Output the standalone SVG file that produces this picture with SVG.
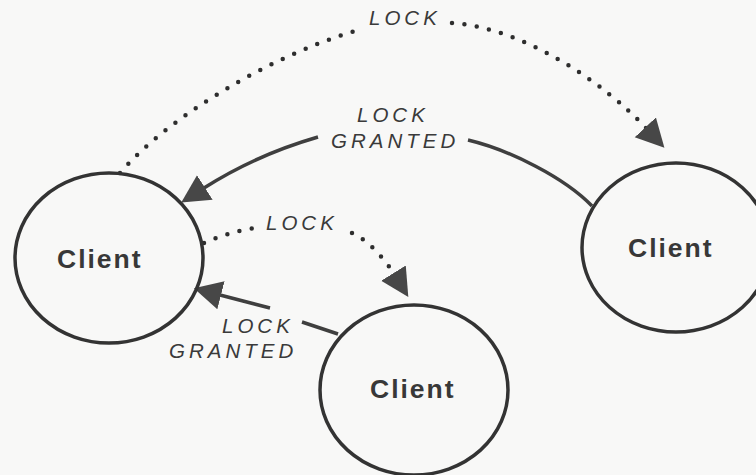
<svg xmlns="http://www.w3.org/2000/svg" width="756" height="475" viewBox="0 0 756 475">
  <defs>
    <style>
      .node { fill: #ffffff; fill-opacity: 0; stroke: #333333; stroke-width: 3.5; }
      .ntext { font-family: "Liberation Sans", Arial, sans-serif; font-weight: bold; font-size: 26.5px; letter-spacing: 2px; fill: #383838; }
      .solid { fill: none; stroke: #3f3f3f; stroke-width: 3.5; stroke-linecap: butt; }
      .dotted { fill: none; stroke: #2e2e2e; stroke-width: 4.5; stroke-linecap: round; stroke-dasharray: 0 12.5; }
      .lbl { font-family: "Liberation Sans", Arial, sans-serif; font-style: italic; font-size: 20.5px; letter-spacing: 4px; fill: #3a3a3a; }
    </style>
    <marker id="ah" markerUnits="userSpaceOnUse" viewBox="0 -15 29 30" markerWidth="29" markerHeight="30" refX="1" refY="0" orient="auto">
      <path d="M0,-14.5 L28,0 L0,14.5 z" fill="#474747"/>
    </marker>
  </defs>
  <rect x="0" y="0" width="756" height="475" fill="#f8f8f7"/>

  <g id="connectors">
    <!-- top LOCK: left client -> right client -->
    <g id="edge-lock-top">
      <path class="dotted" d="M120,173 C165,120 265,58 355,31"/>
      <path class="dotted" d="M452,23 C525,28 605,84 646,128" marker-end="url(#ah)"/>
      <text class="lbl" x="369" y="25">LOCK</text>
    </g>
    <!-- top LOCK GRANTED: right client -> left client -->
    <g id="edge-granted-top">
      <path class="solid" d="M592,206 C565,178 510,150 468,140"/>
      <path class="solid" d="M318,137 C280,148 240,165 204,188" marker-end="url(#ah)"/>
      <text class="lbl" x="357" y="122">LOCK</text>
      <text class="lbl" x="331" y="148">GRANTED</text>
    </g>
    <!-- middle LOCK: left client -> bottom client -->
    <g id="edge-lock-mid">
      <path class="dotted" d="M204,243 Q228,232 255,228"/>
      <path class="dotted" d="M352,233 C368,240 384,258 394,274" marker-end="url(#ah)"/>
      <text class="lbl" x="266" y="230">LOCK</text>
    </g>
    <!-- bottom LOCK GRANTED: bottom client -> left client -->
    <g id="edge-granted-bottom">
      <path class="solid" d="M338,334 L302,322"/>
      <path class="solid" d="M270,308 L220,295" marker-end="url(#ah)"/>
      <text class="lbl" x="222" y="333">LOCK</text>
      <text class="lbl" x="169" y="358">GRANTED</text>
    </g>
  </g>

  <g id="client-left">
    <ellipse class="node" cx="109" cy="258" rx="94" ry="85"/>
    <text class="ntext" x="57" y="268">Client</text>
  </g>
  <g id="client-right">
    <ellipse class="node" cx="676" cy="247.5" rx="94" ry="84.5"/>
    <text class="ntext" x="628" y="257">Client</text>
  </g>
  <g id="client-bottom">
    <ellipse class="node" cx="414" cy="390" rx="94" ry="85"/>
    <text class="ntext" x="370" y="398">Client</text>
  </g>
</svg>
